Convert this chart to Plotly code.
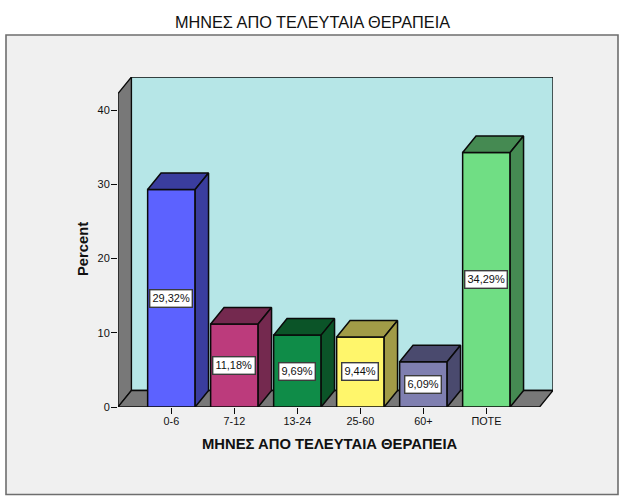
import plotly.graph_objects as go

categories = ["0-6", "7-12", "13-24", "25-60", "60+", "ΠΟΤΕ"]
percent = [29.32, 11.18, 9.69, 9.44, 6.09, 34.29]
labels = ["29,32%", "11,18%", "9,69%", "9,44%", "6,09%", "34,29%"]
front_colors = ["#5c62ff", "#bc3b7c", "#0f8c48", "#fff66b", "#7f7fb0", "#70de84"]
dark_colors = ["#3a3d9e", "#74294f", "#0b5428", "#a19b47", "#4a4a6e", "#458a52"]
y_ticks = [0, 10, 20, 30, 40]
title_text = "ΜΗΝΕΣ ΑΠΟ ΤΕΛΕΥΤΑΙΑ ΘΕΡΑΠΕΙΑ"
y_title = "Percent"

W, H = 626, 501
L, R, T, B = 118.0, 553.0, 77.0, 407.0
PX_CAT = 63.0
PX_UNIT = 7.42
X0_PX = 171.4
BAR_W = 47.5 / PX_CAT
DX = 13.4 / PX_CAT
DY = 16.5 / PX_UNIT
XMIN = (L - X0_PX) / PX_CAT
XMAX = (R - X0_PX) / PX_CAT
YMAX = (B - T) / PX_UNIT
FONT = "Liberation Sans"
EDGE = "#0a0a0a"


def px(x):
    return (x - L) / (R - L)


def py(y):
    return (B - y) / (B - T)


fig = go.Figure()

xs = list(range(len(categories)))
fig.add_trace(go.Bar(x=xs, y=percent, width=BAR_W, marker=dict(color=front_colors, line=dict(color=EDGE, width=1.5)), showlegend=False))

for i, v, dark in zip(xs, percent, dark_colors):
    a, b = i - BAR_W / 2, i + BAR_W / 2
    fig.add_trace(go.Scatter(x=[a, a + DX, b + DX, b, a], y=[v, v + DY, v + DY, v, v], mode="lines", fill="toself",
                             fillcolor=dark, line=dict(color=EDGE, width=1.5), showlegend=False))
    fig.add_trace(go.Scatter(x=[b, b + DX, b + DX, b, b], y=[v, v + DY, DY, 0, v], mode="lines", fill="toself",
                             fillcolor=dark, line=dict(color=EDGE, width=1.5), showlegend=False))

shapes = [
    dict(type="rect", xref="paper", yref="paper", x0=px(6), x1=px(618), y0=py(494.5), y1=py(35), layer="below",
         fillcolor="#f0f0f0", line=dict(color="#6e6e6e", width=1.6)),
    dict(type="rect", x0=XMIN + DX, x1=XMAX, y0=DY, y1=YMAX, layer="below", fillcolor="#b6e6e7", line=dict(color=EDGE, width=1.3)),
    dict(type="path", path=f"M {XMIN} 0 L {XMIN + DX} {DY} L {XMIN + DX} {YMAX} L {XMIN} {YMAX - DY} Z", layer="below",
         fillcolor="#787878", line=dict(color=EDGE, width=1.3)),
    dict(type="path", path=f"M {XMIN} 0 L {XMIN + DX} {DY} L {XMAX} {DY} L {XMAX - DX} 0 Z", layer="below",
         fillcolor="#787878", line=dict(color=EDGE, width=1.3)),
]

annotations = [
    dict(x=i, y=v / 2, text=t, showarrow=False, bgcolor="white", bordercolor="#3c3c3c", borderwidth=1.4, borderpad=2,
         font=dict(family=FONT, size=11, color="#111"))
    for i, v, t in zip(xs, percent, labels)
]
annotations += [
    dict(xref="paper", yref="paper", x=px(329.5), y=py(444), xanchor="center", yanchor="middle", text=f"<b>{title_text}</b>",
         showarrow=False, font=dict(family=FONT, size=14.8, color="#111")),
    dict(xref="paper", yref="paper", x=px(83), y=py(249), xanchor="center", yanchor="middle", text=f"<b>{y_title}</b>",
         textangle=-90, showarrow=False, font=dict(family=FONT, size=14.8, color="#111")),
]

fig.update_layout(
    width=W, height=H, autosize=False,
    margin=dict(l=L, r=W - R, t=T, b=H - B, pad=0),
    paper_bgcolor="white", plot_bgcolor="rgba(0,0,0,0)",
    showlegend=False, shapes=shapes, annotations=annotations, hovermode=False,
    title=dict(text=title_text, x=312.5 / W, xref="container", xanchor="center", y=1 - 22 / H, yref="container", yanchor="middle",
               font=dict(family=FONT, size=16.3, color="#111")),
    xaxis=dict(range=[XMIN, XMAX], tickmode="array", tickvals=xs, ticktext=categories, showgrid=False, zeroline=False,
               showline=False, ticks="outside", ticklen=6, tickwidth=1.2, tickcolor=EDGE, ticklabelstandoff=-2,
               tickfont=dict(family=FONT, size=10.8, color="#111")),
    yaxis=dict(range=[0, YMAX], tickmode="array", tickvals=y_ticks, showgrid=False, zeroline=False,
               showline=False, ticks="outside", ticklen=6, tickwidth=1.2, tickcolor=EDGE, ticklabelstandoff=-1,
               tickfont=dict(family=FONT, size=11, color="#111")),
)

fig.write_html("out.html", config=dict(displayModeBar=False), post_script="document.body.style.margin='0';")
